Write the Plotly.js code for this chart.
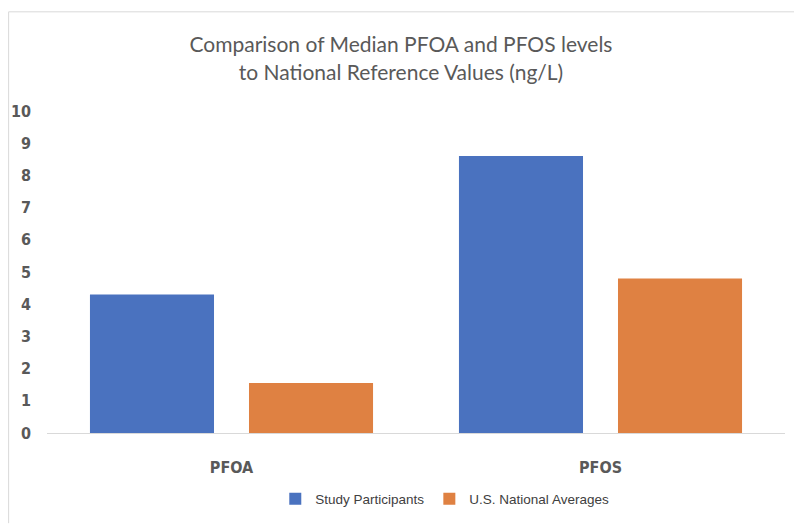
<!DOCTYPE html>
<html><head><meta charset="utf-8">
<script src="https://cdn.plot.ly/plotly-3.0.1.min.js"></script>
<style>html,body{margin:0;padding:0;background:#fff;}#chart{width:794px;height:524px;}</style>
</head><body><div id="chart"></div>
<script>
const categories = ["PFOA", "PFOS"];
const seriesNames = ["Study Participants", "U.S. National Averages"];
const studyValues = [4.3, 8.6];
const nationalValues = [1.55, 4.8];
const yTicks = [0,1,2,3,4,5,6,7,8,9,10];

const narrow = '"DejaVu Sans Condensed", Lato, sans-serif';
const traces = [
  {type:'bar', name:seriesNames[0], x:categories, y:studyValues, marker:{color:'#4a72bf'}},
  {type:'bar', name:seriesNames[1], x:categories, y:nationalValues, marker:{color:'#df8142'}}
];
const layout = {
  width:794, height:524,
  margin:{l:47, r:9, t:111, b:89},
  paper_bgcolor:'#ffffff', plot_bgcolor:'#ffffff',
  barmode:'group', bargap:0.138, bargroupgap:0.22,
  title:{text:'Comparison of Median PFOA and PFOS levels<br>to National Reference Values (ng/L)',
    font:{family:'Lato, sans-serif', size:21, color:'#595959'}, x:0.505, xanchor:'center', y:0.9, yanchor:'middle'},
  xaxis:{showgrid:false, showline:true, linecolor:'#d9d9d9', linewidth:1, ticks:'',
    tickfont:{family:narrow, size:16, color:'#595959', weight:'bold'}, ticklabelstandoff:20, zeroline:false},
  yaxis:{range:[0,10], tickvals:yTicks, showgrid:false, showline:false, zeroline:false, ticks:'',
    tickfont:{family:narrow, size:16, color:'#595959', weight:'bold'}, ticklabelstandoff:15},
  showlegend:true,
  legend:{orientation:'h', x:0.539, xanchor:'center', y:-0.205, yanchor:'middle',
    font:{family:'Liberation Sans, Arial, sans-serif', size:13.5, color:'#404040'}, itemwidth:30, traceorder:'normal'},
  shapes:[
    {type:'line', xref:'paper', yref:'paper', x0:-0.052, x1:1.02, y0:1.308, y1:1.308, line:{color:'#d9d9d9', width:1}},
    {type:'line', xref:'paper', yref:'paper', x0:-0.052, x1:-0.052, y0:-0.28, y1:1.308, line:{color:'#d9d9d9', width:1}}
  ]
};
Plotly.newPlot('chart', traces, layout, {displayModeBar:false, staticPlot:true});
</script></body></html>
